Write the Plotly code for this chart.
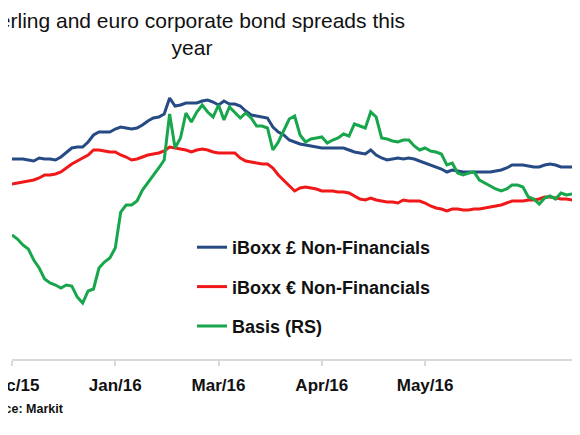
import pandas as pd
import plotly.graph_objects as go

# iBoxx spreads (bps, left axis) and sterling-euro basis (right axis), sampled every 2 days
start_date = "2015-12-22"
gbp_nonfin = [
    180.0, 180.0, 180.0, 179.5, 179.0, 180.5, 180.0, 180.0, 179.5, 181.0,
    183.5, 185.5, 186.0, 186.0, 188.5, 192.0, 193.5, 193.5, 193.5, 195.0,
    196.0, 195.5, 195.0, 195.5, 197.0, 199.0, 200.5, 201.0, 202.5, 210.5,
    206.5, 207.0, 208.0, 208.0, 208.0, 209.0, 209.5, 208.5, 207.0, 209.0,
    207.5, 207.5, 206.5, 204.0, 202.0, 201.5, 201.0, 200.5, 196.0, 193.5,
    192.0, 189.5, 188.5, 187.5, 187.0, 186.5, 186.0, 185.5, 185.5, 185.5,
    185.5, 185.5, 184.5, 183.5, 183.0, 182.5, 184.5, 182.0, 180.5, 179.5,
    180.0, 180.5, 180.0, 180.5, 180.0, 179.0, 178.0, 177.0, 176.0, 175.0,
    173.5, 174.5, 174.0, 173.5, 173.5, 173.5, 173.5, 173.5, 173.5, 174.0,
    174.5, 175.5, 177.0, 177.0, 177.0, 176.5, 176.0, 176.0, 177.0, 177.5,
    177.0, 176.0, 176.0, 176.0, 175.5, 175.5,
]
eur_nonfin = [
    167.5, 168.0, 168.5, 169.0, 169.5, 170.5, 172.0, 172.0, 172.5, 173.5,
    175.5, 177.5, 179.0, 180.5, 182.0, 184.5, 184.5, 184.0, 183.5, 183.5,
    182.0, 181.0, 179.5, 180.0, 181.0, 182.0, 182.5, 183.0, 184.0, 186.0,
    185.5, 185.0, 184.5, 183.5, 184.5, 185.0, 184.5, 183.5, 183.0, 183.0,
    183.0, 183.0, 180.5, 179.0, 178.5, 178.0, 177.5, 177.5, 175.5, 172.0,
    169.5, 166.5, 164.0, 165.5, 166.0, 165.5, 165.0, 164.0, 164.0, 164.0,
    163.5, 163.5, 163.0, 161.5, 160.0, 159.5, 160.5, 159.5, 159.0, 158.5,
    158.5, 158.0, 159.5, 159.0, 159.0, 159.0, 158.0, 156.5, 155.5, 155.0,
    154.0, 155.0, 155.0, 154.5, 154.5, 155.0, 155.0, 155.5, 156.0, 156.5,
    157.0, 158.0, 159.0, 159.0, 159.0, 159.5, 159.5, 160.0, 161.0, 161.0,
    160.5, 160.0, 160.0, 159.5, 159.0, 159.0,
]
basis = [
    12.4, 12.0, 11.4, 11.0, 9.9, 9.1, 8.0, 7.6, 7.4, 7.1,
    7.4, 7.3, 6.2, 5.6, 6.8, 7.0, 9.1, 9.7, 10.1, 11.1,
    14.7, 15.4, 15.4, 15.8, 16.9, 17.6, 18.3, 19.1, 19.9, 24.5,
    21.1, 22.1, 24.6, 23.7, 24.7, 25.4, 24.7, 24.2, 25.4, 23.9,
    25.2, 24.6, 24.1, 24.6, 24.1, 23.3, 23.3, 23.1, 20.9, 21.7,
    22.9, 24.0, 24.3, 22.4, 21.7, 22.0, 22.1, 22.2, 21.6, 21.9,
    22.1, 22.5, 22.3, 23.5, 23.3, 23.1, 24.7, 24.2, 22.1, 22.0,
    21.8, 21.7, 21.9, 21.9, 21.3, 20.9, 21.1, 20.8, 20.7, 20.5,
    19.4, 19.6, 18.6, 18.4, 18.6, 18.7, 17.9, 17.6, 17.3, 17.0,
    16.8, 17.0, 17.4, 17.4, 17.2, 16.2, 16.0, 15.5, 16.1, 16.3,
    16.0, 16.6, 16.4, 16.5, 16.6, 17.8,
]
tick_dates = ["2015-12-22", "2016-01-29", "2016-03-07", "2016-04-14", "2016-05-22"]
tick_labels = ["Dec/15", "Jan/16", "Mar/16", "Apr/16", "May/16"]
x_end = "2016-07-18"

dates = pd.date_range(start_date, periods=len(gbp_nonfin), freq="2D")

FONT = "Arial, Liberation Sans, sans-serif"

fig = go.Figure()
fig.add_trace(go.Scatter(
    x=dates, y=gbp_nonfin, mode="lines", name="iBoxx £ Non-Financials",
    line=dict(color="#254a84", width=3), legendgroup="gbp"
))
fig.add_trace(go.Scatter(
    x=dates, y=eur_nonfin, mode="lines", name="iBoxx € Non-Financials",
    line=dict(color="#f01818", width=3), legendgroup="eur"
))
fig.add_trace(go.Scatter(
    x=dates, y=basis, mode="lines", name="Basis (RS)", yaxis="y2",
    line=dict(color="#17a64b", width=3), legendgroup="basis"
))

# the page body adds an 8px offset, so the layout is shifted up/left by 8px
fig.update_layout(
    width=580,
    height=435,
    margin=dict(l=4, r=8, t=52, b=84),
    paper_bgcolor="white",
    plot_bgcolor="white",
    font=dict(family=FONT, color="#111111"),
    title=dict(
        text="Sterling and euro corporate bond spreads this<br>year",
        x=184 / 580, xref="container", xanchor="center",
        y=1 - 20 / 435, yref="container", yanchor="top",
        font=dict(size=21, color="#111111"),
    ),
    showlegend=True,
    legend=dict(
        x=(184 - 4) / 568, y=(351 - 221) / 299, xanchor="left", yanchor="top",
        font=dict(size=18, weight="bold", color="#111111"),
        bgcolor="rgba(0,0,0,0)", tracegroupgap=13, traceorder="grouped",
    ),
    xaxis=dict(
        type="date", range=[start_date, x_end],
        tickvals=tick_dates, ticktext=tick_labels,
        showgrid=False, zeroline=False, automargin=False,
        showline=True, linecolor="#d9d9d9", linewidth=2,
        ticks="outside", tickcolor="#d9d9d9", ticklen=5, tickwidth=1.5,
        ticklabelstandoff=5, ticklabeloverflow="allow",
        tickfont=dict(size=17, weight="bold", color="#111111"),
    ),
    yaxis=dict(range=[80, 229.5], visible=False),
    yaxis2=dict(range=[0, 29.9], overlaying="y", side="right", visible=False),
)

fig.add_annotation(
    text="Source: Markit", xref="paper", yref="paper",
    x=(-34 - 4) / 568, y=(351 - 401) / 299, xanchor="left", yanchor="middle",
    showarrow=False, font=dict(size=12.5, weight="bold", color="#111111"),
)

fig.write_html("out.html")
